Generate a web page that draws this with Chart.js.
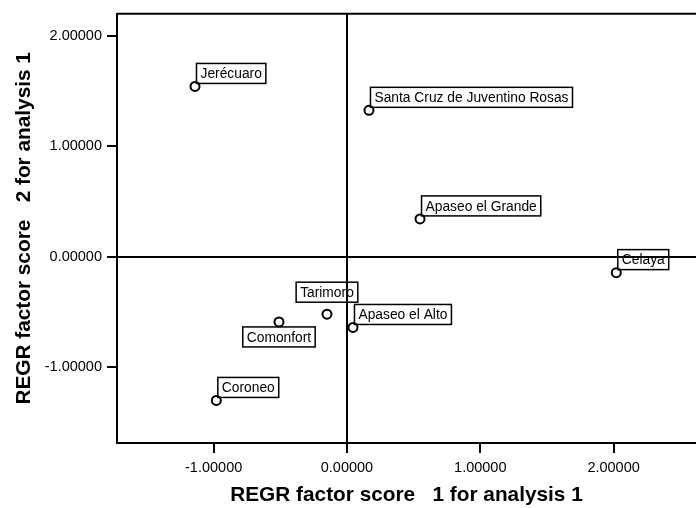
<!DOCTYPE html>
<html>
<head>
<meta charset="utf-8">
<script src="https://cdn.jsdelivr.net/npm/chart.js@4.4.0/dist/chart.umd.min.js"></script>
<style>
  body { margin: 0; background: #fff; }
  #wrap { width: 696px; height: 508px; }
</style>
</head>
<body>
<div id="wrap"><canvas id="factorChart"></canvas></div>
<script>
// municipalities and their factor scores
const names = ['Jerécuaro', 'Santa Cruz de Juventino Rosas', 'Apaseo el Grande', 'Celaya',
  'Tarimoro', 'Apaseo el Alto', 'Comonfort', 'Coroneo'];
const score1 = [-1.14, 0.165, 0.548, 2.02, -0.15, 0.045, -0.51, -0.98];
const score2 = [1.54, 1.324, 0.342, -0.144, -0.52, -0.64, -0.59, -1.30];
const xTicks = [-1, 0, 1, 2];
const yTicks = [-1, 0, 1, 2];

// where each label box sits relative to its point
const place = ['ne', 'ne', 'ne', 'ne', 'n', 'ne', 's', 'ne'];

const pts = names.map((n, i) => ({ x: score1[i], y: score2[i] }));

const labelPlugin = {
  id: 'labels',
  afterDatasetsDraw(chart) {
    const ctx = chart.ctx;
    const meta = chart.getDatasetMeta(0);
    ctx.save();
    ctx.font = '13.8px "Liberation Sans", Arial, sans-serif';
    ctx.textBaseline = 'middle';
    ctx.fillStyle = '#000';
    ctx.strokeStyle = '#000';
    ctx.lineWidth = 1.5;
    meta.data.forEach((p, i) => {
      const w = ctx.measureText(names[i]).width + 8;
      const h = 20;
      let bx, by;
      if (place[i] == 'n') { bx = p.x - w / 2; by = p.y - 12 - h; }
      else if (place[i] == 's') { bx = p.x - w / 2; by = p.y + 5; }
      else { bx = p.x + 1.5; by = p.y - 3 - h; }
      ctx.strokeRect(bx, by, w, h);
      ctx.fillText(names[i], bx + 4, by + h / 2 + 1);
    });
    ctx.restore();
  }
};

const framePlugin = {
  id: 'frame',
  afterDraw(chart) {
    const a = chart.chartArea;
    const ctx = chart.ctx;
    ctx.save();
    ctx.strokeStyle = '#000';
    ctx.lineWidth = 2;
    ctx.beginPath();
    ctx.moveTo(a.left, a.top);
    ctx.lineTo(a.right, a.top);
    ctx.stroke();
    ctx.restore();
  }
};

const zeroGrid = (c) => (c.tick && c.tick.value === 0) ? '#000' : 'rgba(0,0,0,0)';

new Chart(document.getElementById('factorChart'), {
  type: 'scatter',
  data: {
    datasets: [{
      data: pts,
      pointRadius: 4.5,
      pointHoverRadius: 4.5,
      pointBackgroundColor: '#fff',
      pointBorderColor: '#000',
      pointBorderWidth: 2
    }]
  },
  options: {
    responsive: true,
    maintainAspectRatio: false,
    animation: false,
    layout: { autoPadding: false, padding: { top: 12, right: 0, left: 0, bottom: 0 } },
    plugins: { legend: { display: false }, tooltip: { enabled: false } },
    scales: {
      x: {
        type: 'linear',
        min: -1.725,
        max: 2.618,
        afterBuildTicks: (s) => { s.ticks = xTicks.map(v => ({ value: v })); },
        afterFit: (s) => { s.height = 65; },
        grid: { color: zeroGrid, lineWidth: 2, tickColor: '#000', tickWidth: 2, tickLength: 10 },
        border: { color: '#000', width: 2 },
        ticks: {
          color: '#000',
          font: { family: '"Liberation Sans", Arial, sans-serif', size: 14.5 },
          padding: 6,
          maxRotation: 0,
          callback: (v) => Number(v).toFixed(5)
        },
        title: {
          display: true,
          text: 'REGR factor score   1 for analysis 1',
          color: '#000',
          font: { family: '"Liberation Sans", Arial, sans-serif', size: 20.8, weight: 'bold' },
          padding: { top: 9, bottom: 0 }
        }
      },
      y: {
        type: 'linear',
        min: -1.685,
        max: 2.198,
        afterBuildTicks: (s) => { s.ticks = yTicks.map(v => ({ value: v })); },
        afterFit: (s) => { s.width = 117; },
        grid: { color: zeroGrid, lineWidth: 2, tickColor: '#000', tickWidth: 2, tickLength: 10 },
        border: { color: '#000', width: 2 },
        ticks: {
          color: '#000',
          font: { family: '"Liberation Sans", Arial, sans-serif', size: 14.5 },
          padding: 5,
          callback: (v) => Number(v).toFixed(5)
        },
        title: {
          display: true,
          text: 'REGR factor score   2 for analysis 1',
          color: '#000',
          font: { family: '"Liberation Sans", Arial, sans-serif', size: 20.8, weight: 'bold' },
          padding: { top: 12, bottom: 0 }
        }
      }
    }
  },
  plugins: [labelPlugin, framePlugin]
});
</script>
</body>
</html>
